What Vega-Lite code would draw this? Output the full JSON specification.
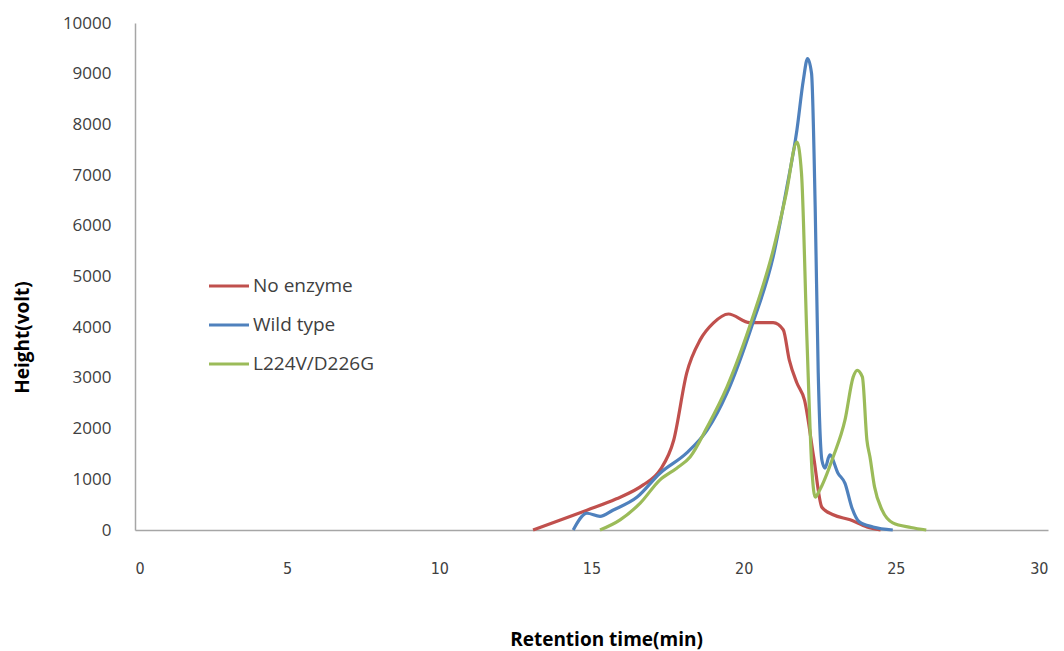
{
  "$schema": "https://vega.github.io/schema/vega-lite/v6.json",
  "autosize": {"type": "none"},
  "width": 913,
  "height": 507,
  "padding": {"left": 135, "top": 23, "right": 16, "bottom": 121},
  "background": "white",
  "config": {"view": {"stroke": null}, "font": "Open Sans"},
  "data": {"values": [
    {"t": 13.08, "h": 0, "s": "No enzyme"},
    {"t": 14.0, "h": 200, "s": "No enzyme"},
    {"t": 14.85, "h": 390, "s": "No enzyme"},
    {"t": 15.8, "h": 610, "s": "No enzyme"},
    {"t": 16.7, "h": 890, "s": "No enzyme"},
    {"t": 17.25, "h": 1180, "s": "No enzyme"},
    {"t": 17.7, "h": 1770, "s": "No enzyme"},
    {"t": 18.13, "h": 3100, "s": "No enzyme"},
    {"t": 18.57, "h": 3750, "s": "No enzyme"},
    {"t": 19.0, "h": 4080, "s": "No enzyme"},
    {"t": 19.5, "h": 4260, "s": "No enzyme"},
    {"t": 20.2, "h": 4090, "s": "No enzyme"},
    {"t": 20.97, "h": 4090, "s": "No enzyme"},
    {"t": 21.3, "h": 3950, "s": "No enzyme"},
    {"t": 21.5, "h": 3350, "s": "No enzyme"},
    {"t": 21.75, "h": 2900, "s": "No enzyme"},
    {"t": 22.0, "h": 2560, "s": "No enzyme"},
    {"t": 22.3, "h": 1440, "s": "No enzyme"},
    {"t": 22.57, "h": 450, "s": "No enzyme"},
    {"t": 22.94, "h": 300, "s": "No enzyme"},
    {"t": 23.5, "h": 200, "s": "No enzyme"},
    {"t": 24.05, "h": 60, "s": "No enzyme"},
    {"t": 24.5, "h": 0, "s": "No enzyme"},
    {"t": 14.4, "h": 0, "s": "Wild type"},
    {"t": 14.85, "h": 330, "s": "Wild type"},
    {"t": 15.28, "h": 270, "s": "Wild type"},
    {"t": 15.7, "h": 390, "s": "Wild type"},
    {"t": 16.5, "h": 650, "s": "Wild type"},
    {"t": 17.25, "h": 1120, "s": "Wild type"},
    {"t": 18.13, "h": 1520, "s": "Wild type"},
    {"t": 18.8, "h": 1970, "s": "Wild type"},
    {"t": 19.45, "h": 2700, "s": "Wild type"},
    {"t": 20.3, "h": 4080, "s": "Wild type"},
    {"t": 20.97, "h": 5390, "s": "Wild type"},
    {"t": 21.4, "h": 6700, "s": "Wild type"},
    {"t": 21.75, "h": 7890, "s": "Wild type"},
    {"t": 21.96, "h": 8870, "s": "Wild type"},
    {"t": 22.1, "h": 9300, "s": "Wild type"},
    {"t": 22.23, "h": 9010, "s": "Wild type"},
    {"t": 22.35, "h": 6370, "s": "Wild type"},
    {"t": 22.45, "h": 3100, "s": "Wild type"},
    {"t": 22.57, "h": 1380, "s": "Wild type"},
    {"t": 22.67, "h": 1220, "s": "Wild type"},
    {"t": 22.83, "h": 1480, "s": "Wild type"},
    {"t": 23.1, "h": 1120, "s": "Wild type"},
    {"t": 23.33, "h": 920, "s": "Wild type"},
    {"t": 23.55, "h": 450, "s": "Wild type"},
    {"t": 23.8, "h": 160, "s": "Wild type"},
    {"t": 24.25, "h": 60, "s": "Wild type"},
    {"t": 24.9, "h": 0, "s": "Wild type"},
    {"t": 15.28, "h": 0, "s": "L224V/D226G"},
    {"t": 15.94, "h": 200, "s": "L224V/D226G"},
    {"t": 16.6, "h": 530, "s": "L224V/D226G"},
    {"t": 17.25, "h": 990, "s": "L224V/D226G"},
    {"t": 17.8, "h": 1220, "s": "L224V/D226G"},
    {"t": 18.24, "h": 1440, "s": "L224V/D226G"},
    {"t": 18.8, "h": 2030, "s": "L224V/D226G"},
    {"t": 19.45, "h": 2820, "s": "L224V/D226G"},
    {"t": 20.3, "h": 4200, "s": "L224V/D226G"},
    {"t": 20.97, "h": 5520, "s": "L224V/D226G"},
    {"t": 21.4, "h": 6640, "s": "L224V/D226G"},
    {"t": 21.75, "h": 7650, "s": "L224V/D226G"},
    {"t": 21.9, "h": 7040, "s": "L224V/D226G"},
    {"t": 22.08, "h": 3750, "s": "L224V/D226G"},
    {"t": 22.25, "h": 1120, "s": "L224V/D226G"},
    {"t": 22.35, "h": 650, "s": "L224V/D226G"},
    {"t": 22.5, "h": 790, "s": "L224V/D226G"},
    {"t": 22.94, "h": 1440, "s": "L224V/D226G"},
    {"t": 23.33, "h": 2170, "s": "L224V/D226G"},
    {"t": 23.6, "h": 3020, "s": "L224V/D226G"},
    {"t": 23.73, "h": 3150, "s": "L224V/D226G"},
    {"t": 23.9, "h": 3020, "s": "L224V/D226G"},
    {"t": 24.05, "h": 1770, "s": "L224V/D226G"},
    {"t": 24.15, "h": 1440, "s": "L224V/D226G"},
    {"t": 24.3, "h": 850, "s": "L224V/D226G"},
    {"t": 24.55, "h": 390, "s": "L224V/D226G"},
    {"t": 24.9, "h": 140, "s": "L224V/D226G"},
    {"t": 25.5, "h": 50, "s": "L224V/D226G"},
    {"t": 26.0, "h": 0, "s": "L224V/D226G"}
  ]},
  "mark": {"type": "line", "strokeWidth": 3.2, "interpolate": "monotone"},
  "encoding": {
    "x": {
      "field": "t", "type": "quantitative",
      "scale": {"domain": [0, 30], "nice": false, "zero": false},
      "axis": {
        "title": "Retention time(min)", "values": [0, 5, 10, 15, 20, 25, 30], "format": "d",
        "grid": false, "ticks": false, "domainColor": "#a6a6a6", "domainWidth": 1.5,
        "labelFontSize": 16, "labelColor": "#404040", "labelPadding": 30,
        "titleFontSize": 19, "titleFontWeight": "bold", "titleColor": "#000000", "titlePadding": 54,
        "titleX": 471,
        "labelFont": "DejaVu Sans Condensed", "titleFont": "Open Sans"
      }
    },
    "y": {
      "field": "h", "type": "quantitative",
      "scale": {"domain": [0, 10000], "nice": false},
      "axis": {
        "title": "Height(volt)", "values": [0, 1000, 2000, 3000, 4000, 5000, 6000, 7000, 8000, 9000, 10000], "format": "d",
        "grid": false, "ticks": false, "domainColor": "#a6a6a6", "domainWidth": 1.5,
        "labelFontSize": 17, "labelColor": "#404040", "labelPadding": 24,
        "titleFontSize": 19, "titleFontWeight": "bold", "titleColor": "#000000", "titlePadding": 30,
        "titleY": 314,
        "labelFont": "Open Sans", "titleFont": "Open Sans"
      }
    },
    "color": {
      "field": "s", "type": "nominal",
      "scale": {"domain": ["No enzyme", "Wild type", "L224V/D226G"], "range": ["#C0504D", "#4F81BD", "#9BBB59"]},
      "legend": {
        "title": null, "orient": "none", "legendX": 72, "legendY": 241,
        "symbolType": "stroke", "symbolSize": 1600, "symbolStrokeWidth": 3.2,
        "labelFontSize": 19, "labelColor": "#404040", "labelOffset": 2, "rowPadding": 7,
        "labelFont": "Open Sans"
      }
    }
  }
}
